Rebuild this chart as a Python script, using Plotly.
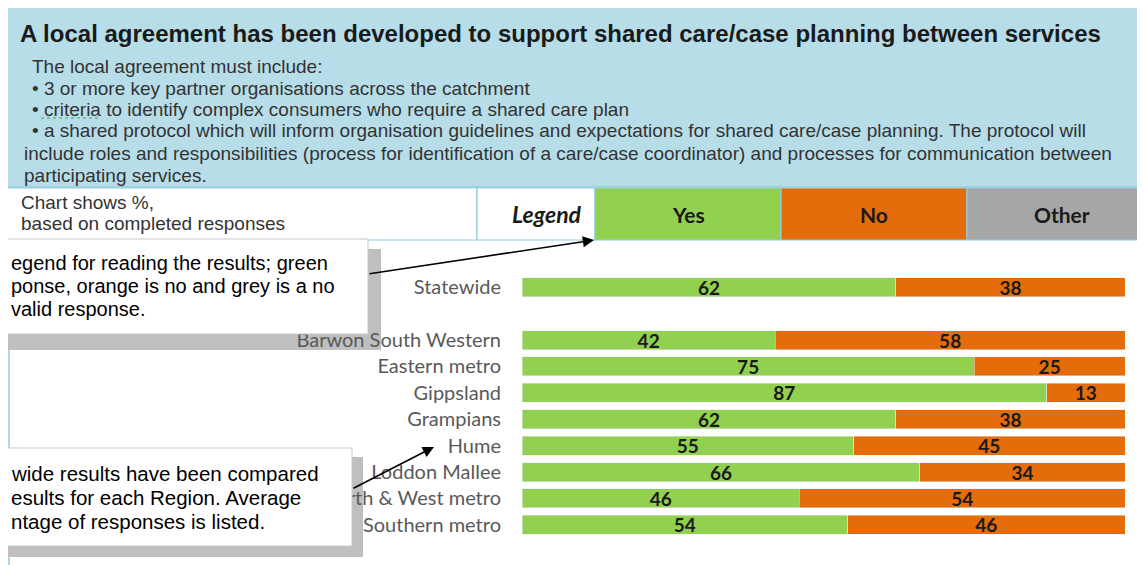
import plotly.graph_objects as go

# データ
regions = ["Statewide", " ", "Barwon South Western", "Eastern metro", "Gippsland",
           "Grampians", "Hume", "Loddon Mallee", "North & West metro", "Southern metro"]
yes_pct = [62, None, 42, 75, 87, 62, 55, 66, 46, 54]
no_pct = [38, None, 58, 25, 13, 38, 45, 34, 54, 46]

legend_labels = ["Yes", "No", "Other"]
legend_colors = ["#92D050", "#E46C0A", "#A6A6A6"]

title_text = "A local agreement has been developed to support shared care/case planning between services"
body_lines = [
    "The local agreement must include:",
    "• 3 or more key partner organisations across the catchment",
    "• criteria to identify complex consumers who require a shared care plan",
    "• a shared protocol which will inform organisation guidelines and expectations for shared care/case planning. The protocol will",
    "include roles and responsibilities (process for identification of a care/case coordinator) and processes for communication between",
    "participating services.",
]
note_lines = ["Chart shows %,", "based on completed responses"]
callout1 = ["egend for reading the results; green", "ponse, orange is no and grey is a no", "valid response."]
callout2 = ["wide results have been compared", "esults for each Region. Average", "ntage of responses is listed."]

# ページの body に 8px の余白があるので、その分だけ図を小さくする
OFF = 8
W, H = 1145 - OFF, 565 - OFF
L, R, T, B = 522 - OFF, 20, 274 - OFF, 27


# 参照画像のピクセル座標 -> paper座標
def px(x):
    return (x - 522) / (W - L - R)


def py(y):
    return (538 - y) / (H - T - B)


fig = go.Figure()
fig.add_trace(go.Bar(
    y=regions, x=yes_pct, orientation="h", name="Yes",
    marker=dict(color="#92D050"),
    text=yes_pct, texttemplate="<b>%{x}</b>", textposition="inside",
    insidetextanchor="middle", constraintext="none", textangle=0,
    textfont=dict(family="Lato", size=19, color="#1a1a1a"),
))
fig.add_trace(go.Bar(
    y=regions, x=no_pct, orientation="h", name="No",
    marker=dict(color="#E46C0A"),
    text=no_pct, texttemplate="<b>%{x}</b>", textposition="inside",
    insidetextanchor="middle", constraintext="none", textangle=0,
    textfont=dict(family="Lato", size=19, color="#1a1a1a"),
))

blue_line = "#92CDDC"
shapes = []
# タイトルの枠
shapes.append(dict(type="rect", xref="paper", yref="paper", x0=px(5), x1=px(1160), y0=py(5), y1=py(187),
                   fillcolor="#B7DDE8", line=dict(color=blue_line, width=1.5), layer="above"))
# 凡例の行
shapes.append(dict(type="rect", xref="paper", yref="paper", x0=px(5), x1=px(477), y0=py(188), y1=py(240),
                   fillcolor="white", line=dict(color=blue_line, width=1.2), layer="above"))
shapes.append(dict(type="rect", xref="paper", yref="paper", x0=px(477), x1=px(595), y0=py(188), y1=py(240),
                   fillcolor="white", line=dict(color=blue_line, width=1.2), layer="above"))
cell_x = [595, 781, 967, 1160]
for i, c in enumerate(legend_colors):
    shapes.append(dict(type="rect", xref="paper", yref="paper", x0=px(cell_x[i]), x1=px(cell_x[i + 1]),
                       y0=py(188), y1=py(240), fillcolor=c, line=dict(color=blue_line, width=1.2), layer="above"))
# 左の縦線
shapes.append(dict(type="line", xref="paper", yref="paper", x0=px(9), x1=px(9), y0=py(240), y1=py(570),
                   line=dict(color=blue_line, width=1.5), layer="below"))
# 吹き出し（影 + 白い箱）
shapes.append(dict(type="rect", xref="paper", yref="paper", x0=px(-20), x1=px(381), y0=py(249), y1=py(350),
                   fillcolor="#BFBFBF", line=dict(width=0), layer="below"))
shapes.append(dict(type="rect", xref="paper", yref="paper", x0=px(-20), x1=px(368), y0=py(239), y1=py(334),
                   fillcolor="white", line=dict(color="#C8C8C8", width=1), layer="above"))
shapes.append(dict(type="rect", xref="paper", yref="paper", x0=px(-20), x1=px(363), y0=py(457), y1=py(557),
                   fillcolor="#BFBFBF", line=dict(width=0), layer="below"))
shapes.append(dict(type="rect", xref="paper", yref="paper", x0=px(-20), x1=px(352), y0=py(448), y1=py(546),
                   fillcolor="white", line=dict(color="#C8C8C8", width=1), layer="above"))
# criteria の下の波線
shapes.append(dict(type="line", xref="paper", yref="paper", x0=px(41), x1=px(98), y0=py(118), y1=py(118),
                   line=dict(color="#3CB043", width=1.2, dash="dot"), layer="above"))

annotations = []
annotations.append(dict(text="<b>" + title_text + "</b>", x=px(18), y=py(33), xref="paper", yref="paper",
                        xanchor="left", yanchor="middle", showarrow=False,
                        font=dict(family="Liberation Sans", size=24, color="#1a1a1a")))
body_y = [66, 88, 109, 131, 153, 175]
body_x = [30, 30, 30, 30, 22, 22]
for t, bx, by in zip(body_lines, body_x, body_y):
    annotations.append(dict(text=t, x=px(bx), y=py(by), xref="paper", yref="paper",
                            xanchor="left", yanchor="middle", showarrow=False, align="left",
                            font=dict(family="Liberation Sans", size=19, color="#333333")))
for t, ny in zip(note_lines, [202, 223]):
    annotations.append(dict(text=t, x=px(19), y=py(ny), xref="paper", yref="paper",
                            xanchor="left", yanchor="middle", showarrow=False,
                            font=dict(family="Liberation Sans", size=19, color="#333333")))
annotations.append(dict(text="<b><i>Legend</i></b>", x=px(584), y=py(214), xref="paper", yref="paper",
                        xanchor="right", yanchor="middle", showarrow=False,
                        font=dict(family="Lato", size=23, color="#1a1a1a")))
for i, lab in enumerate(legend_labels):
    cx = (cell_x[i] + min(cell_x[i + 1], 1157)) / 2
    annotations.append(dict(text="<b>" + lab + "</b>", x=px(cx), y=py(214), xref="paper", yref="paper",
                            xanchor="center", yanchor="middle", showarrow=False,
                            font=dict(family="Lato", size=21, color="#1a1a1a")))
for t, cy in zip(callout1, [263, 286, 309]):
    annotations.append(dict(text=t, x=px(9), y=py(cy), xref="paper", yref="paper",
                            xanchor="left", yanchor="middle", showarrow=False,
                            font=dict(family="Liberation Sans", size=20, color="black")))
for t, cy in zip(callout2, [473, 497, 521]):
    annotations.append(dict(text=t, x=px(9), y=py(cy), xref="paper", yref="paper",
                            xanchor="left", yanchor="middle", showarrow=False,
                            font=dict(family="Liberation Sans", size=20.5, color="black")))
# 矢印
annotations.append(dict(text="", x=px(594), y=py(240), xref="paper", yref="paper",
                        ax=368 - 594, ay=274 - 240, showarrow=True, arrowhead=2, arrowsize=1.4,
                        arrowwidth=1.6, arrowcolor="black"))
annotations.append(dict(text="", x=px(434), y=py(447), xref="paper", yref="paper",
                        ax=352 - 434, ay=489 - 447, showarrow=True, arrowhead=2, arrowsize=1.4,
                        arrowwidth=1.6, arrowcolor="black"))

fig.update_layout(
    width=W, height=H,
    margin=dict(l=L, r=R, t=T, b=B),
    barmode="stack", bargap=0.28,
    showlegend=False,
    plot_bgcolor="white", paper_bgcolor="white",
    shapes=shapes, annotations=annotations,
)
fig.update_xaxes(range=[0, 100], visible=False, fixedrange=True)
fig.update_yaxes(categoryorder="array", categoryarray=regions, autorange="reversed",
                 showgrid=False, showline=False, ticks="", ticklabelstandoff=20,
                 tickfont=dict(family="Lato", size=20, color="#595959"), fixedrange=True)

fig.write_html("out.html")
